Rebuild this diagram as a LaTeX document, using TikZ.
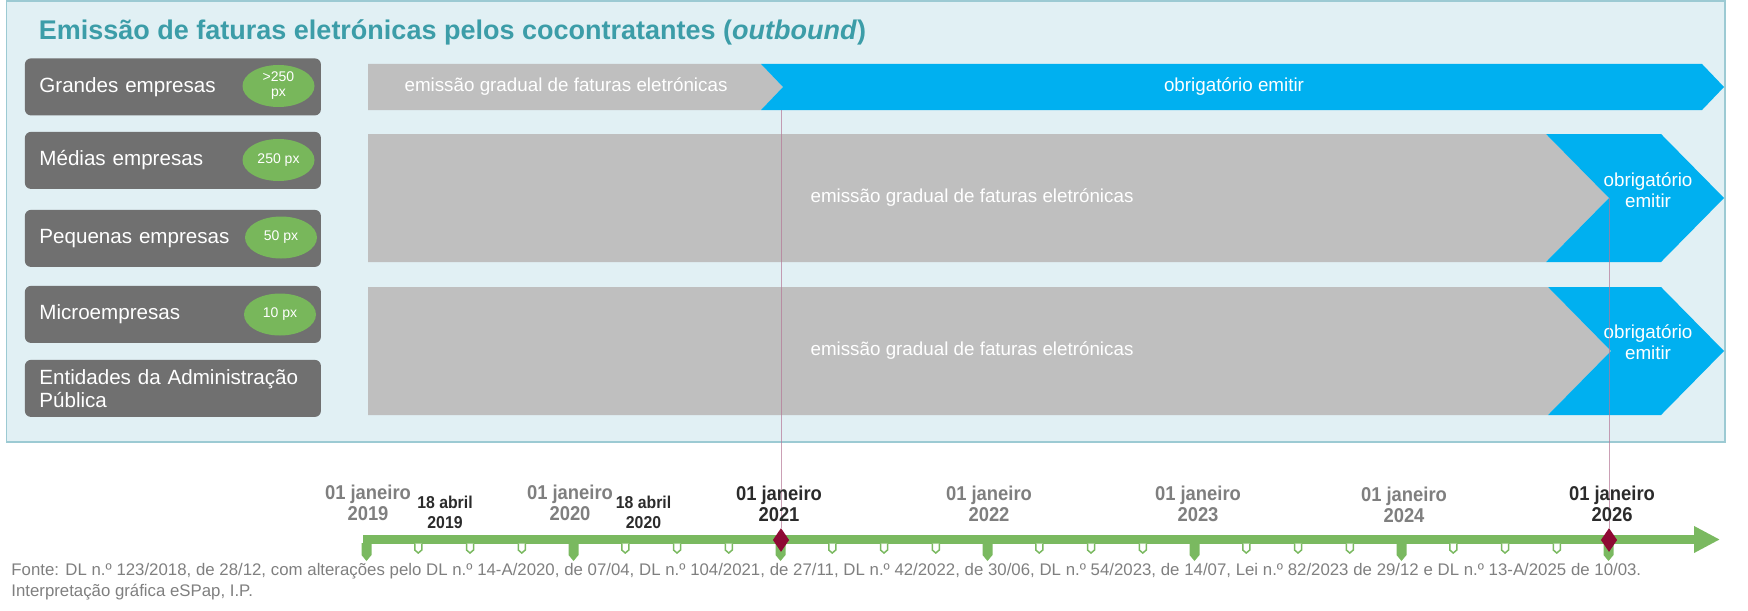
\documentclass[tikz,border=0pt]{standalone}
\usepackage{fontspec}
\setmainfont{Liberation Sans}
\newfontfamily\narrowfont[FakeStretch=0.92]{Liberation Sans}
\usetikzlibrary{shapes.geometric,arrows.meta}

\definecolor{panelbg}{HTML}{E1F0F4}
\definecolor{panelline}{HTML}{9CCAD3}
\definecolor{titleteal}{HTML}{3C9DA8}
\definecolor{boxgray}{HTML}{707070}
\definecolor{badgegreen}{HTML}{78B75B}
\definecolor{bargray}{HTML}{BFBFBF}
\definecolor{barblue}{HTML}{00B0F0}
\definecolor{linegreen}{HTML}{7AB960}
\definecolor{markred}{HTML}{8E0A33}
\definecolor{yeargray}{HTML}{7F7F7F}
\definecolor{yeardark}{HTML}{2B2B2B}
\definecolor{guide}{HTML}{B57896}

\tikzset{
  catbox/.style={fill=boxgray, rounded corners=3pt, text=white, anchor=north west,
    minimum width=148pt, minimum height=28.5pt, text width=133.5pt,
    inner xsep=7.25pt, inner ysep=0pt, align=left,
    font=\fontsize{10.3pt}{11.5pt}\selectfont},
  badge/.style={ellipse, fill=badgegreen, text=white, minimum width=36pt,
    minimum height=21pt, inner sep=0pt, align=center,
    font=\fontsize{7pt}{7.5pt}\selectfont},
  bartext/.style={text=white, align=center, font=\fontsize{9.4pt}{10.5pt}\selectfont},
  yearlabel/.style={text=yeargray, align=center, inner sep=0pt,
    font=\narrowfont\bfseries\fontsize{10pt}{10.5pt}\selectfont},
  yearkey/.style={yearlabel, text=yeardark},
  aprlabel/.style={text=yeardark, align=center, inner sep=0pt,
    font=\narrowfont\bfseries\fontsize{8.6pt}{10pt}\selectfont},
  marker/.style={diamond, fill=markred, minimum width=8.25pt, minimum height=12pt, inner sep=0pt},
  guideline/.style={draw=guide, line width=0.5pt, opacity=0.7},
  fonte/.style={anchor=base west, inner sep=0pt, text=yeargray, font=\fontsize{8.4pt}{10.5pt}\selectfont}
}

\begin{document}
\begin{tikzpicture}[x=0.5pt,y=-0.5pt]
\useasboundingbox (0,0) rectangle (1748,610);
\draw[fill=panelbg, draw=panelline, line width=0.75pt] (6.5,1) rectangle (1725,442);

\node[anchor=base west, inner sep=0pt, text=titleteal, font=\bfseries\fontsize{13.5pt}{15pt}\selectfont] (title) at (38.5,40)
  {Emissão de faturas eletrónicas pelos cocontratantes (\textit{outbound})};

\node[catbox] (grandes) at (24.5,58) {Grandes empresas};
\node[catbox] (medias) at (24.5,131.5) {Médias empresas};
\node[catbox] (pequenas) at (24.5,209.5) {Pequenas empresas};
\node[catbox] (micro) at (24.5,285.5) {Microempresas};
\node[catbox] (entidades) at (24.5,359.5) {Entidades da Administração\\Pública};

\node[badge] (b250plus) at (278.5,86) {>250\\px};
\node[badge] (b250) at (278.5,160) {250 px};
\node[badge] (b50) at (281,237.5) {50 px};
\node[badge] (b10) at (280,314.5) {10 px};

\fill[bargray] (368,64) -- (761,64) -- (783,87) -- (761,110) -- (368,110) -- cycle;
\fill[barblue] (761,64) -- (1702,64) -- (1724,87) -- (1702,110) -- (761,110) -- (783,87) -- cycle;
\fill[bargray] (368,134) -- (1546,134) -- (1609,198) -- (1546,262) -- (368,262) -- cycle;
\fill[barblue] (1546,134) -- (1661,134) -- (1724,198) -- (1661,262) -- (1546,262) -- (1609,198) -- cycle;
\fill[bargray] (368,287) -- (1548,287) -- (1611,351) -- (1548,415) -- (368,415) -- cycle;
\fill[barblue] (1548,287) -- (1661,287) -- (1724,351) -- (1661,415) -- (1548,415) -- (1611,351) -- cycle;

\node[bartext] (grad1) at (566,87) {emissão gradual de faturas eletrónicas};
\node[bartext] (obrig1) at (1234,87) {obrigatório emitir};
\node[bartext] (grad2) at (972,198) {emissão gradual de faturas eletrónicas};
\node[bartext] (obrig2) at (1648,190) {obrigatório\\emitir};
\node[bartext] (grad3) at (972,351) {emissão gradual de faturas eletrónicas};
\node[bartext] (obrig3) at (1648,342) {obrigatório\\emitir};

\coordinate (tstart) at (363,539.5);
\coordinate (tend) at (1720,539.5);
\draw[linegreen, line width=4.5pt, -{Triangle[length=13pt,width=12.5pt]}] (tstart) -- (tend);
\foreach \k in {0,...,6}
  \fill[linegreen] ({366.5+207*\k-5},543) -- ++(10,0) -- ++(0,12) -- ++(-5,6) -- ++(-5,-6) -- cycle;
\foreach \k in {0,...,5}
  \foreach \j in {1,2,3}
    \draw[linegreen, line width=0.75pt, fill=white] ({366.5+207*\k+51.75*\j-3.5},543.5)
      -- ++(0,6.5) -- ++(3.5,3) -- ++(3.5,-3) -- ++(0,-6.5);

\coordinate (g2021) at (781,110);
\coordinate (g2026) at (1609,198);
\node[marker] (d2021) at (781,540) {};
\node[marker] (d2026) at (1609,540) {};
\draw[guideline] (g2021) -- (d2021.north);
\draw[guideline] (g2026) -- (d2026.north);

\node[yearlabel] (y2019) at (368,503) {01 janeiro\\2019};
\node[aprlabel] (a2019) at (445,512) {18 abril\\2019};
\node[yearlabel] (y2020) at (570,503) {01 janeiro\\2020};
\node[aprlabel] (a2020) at (643.5,512) {18 abril\\2020};
\node[yearkey] (y2021) at (779,504) {01 janeiro\\2021};
\node[yearlabel] (y2022) at (989,504) {01 janeiro\\2022};
\node[yearlabel] (y2023) at (1198,504) {01 janeiro\\2023};
\node[yearlabel] (y2024) at (1404,505) {01 janeiro\\2024};
\node[yearkey] (y2026) at (1612,504) {01 janeiro\\2026};

\node[fonte] (fonte1) at (11,575) {\makebox[815pt][s]{Fonte: DL n.º 123/2018, de 28/12, com alterações pelo DL n.º 14-A/2020, de 07/04, DL n.º 104/2021, de 27/11, DL n.º 42/2022, de 30/06, DL n.º 54/2023, de 14/07, Lei n.º 82/2023 de 29/12 e DL n.º 13-A/2025 de 10/03.}};
\node[fonte] (fonte2) at (11,596) {Interpretação gráfica eSPap, I.P.};
\end{tikzpicture}
\end{document}
